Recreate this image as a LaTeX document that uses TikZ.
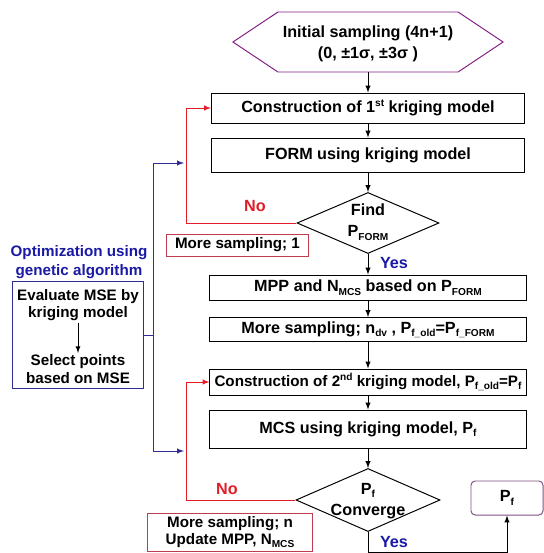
\documentclass[tikz,border=0pt]{standalone}
\usepackage{fontspec}
\setmainfont{Liberation Sans}
\usetikzlibrary{shapes.geometric}
\usetikzlibrary{calc}

\definecolor{redline}{RGB}{225,30,40}
\definecolor{redbox}{RGB}{190,60,80}
\definecolor{navy}{RGB}{50,45,150}
\definecolor{bluetxt}{RGB}{25,25,165}
\definecolor{hexcol}{RGB}{130,30,130}
\definecolor{pfcol}{RGB}{125,80,130}
\newcommand\bigtxt{\fontsize{11.5}{15}\selectfont\bfseries}
\newcommand\smalltxt{\fontsize{10.8}{12.3}\selectfont\bfseries}
\newcommand\low[1]{\raisebox{-0.4ex}{\fontsize{7.2}{7.2}\selectfont #1}}
\newcommand\up[1]{\raisebox{0.75ex}{\fontsize{7.2}{7.2}\selectfont #1}}

\tikzset{
  box/.style={draw, minimum width=7.9cm, inner sep=0pt, font=\bigtxt},
  hexbox/.style={minimum width=4.475cm, minimum height=1.475cm, inner sep=0pt, align=center, font=\bigtxt},
  dec/.style={draw, diamond, inner sep=0pt},
  dectxt/.style={align=center, inner sep=0pt, font=\bigtxt},
  redbox/.style={draw=redbox, fill=white, inner sep=0pt, align=center, font=\smalltxt},
  side/.style={align=center, inner sep=1pt, font=\smalltxt},
  blueline/.style={draw=navy},
  redloop/.style={draw=redline},
  notxt/.style={text=redline, font=\bigtxt},
  yestxt/.style={text=bluetxt, font=\bigtxt},
}

\begin{document}
\begin{tikzpicture}[x=0.025cm, y=-0.025cm, >=latex, line width=0.7pt]
\useasboundingbox (0,0) rectangle (544,553);

% main column
\node[hexbox] (init) at (368,42) {};
\node[dectxt] (inittxt) at (368,44) {Initial sampling (4n+1)\\(0, ±1σ, ±3σ )};
\draw[hexcol] (init.north west) -- (init.north east) -- ([xshift=1.125cm]init.east)
  -- (init.south east) -- (init.south west) -- ([xshift=-1.125cm]init.west) -- cycle;
\node[box, minimum width=7.825cm, minimum height=0.75cm] (con1) at (368,108) {Construction of 1\up{st} kriging model};
\node[box, minimum width=7.825cm, minimum height=0.85cm] (form) at (368,155) {FORM using kriging model};
\node[dec, minimum width=3.55cm, minimum height=1.525cm] (find) at (368,223) {};
\node[dectxt] (findtxt) at (368,222) {Find\\P\low{FORM}};
\node[box, minimum height=0.625cm] (mpp) at (368,287.5) {MPP and N\low{MCS} based on P\low{FORM}};
\node[box, minimum height=0.6cm] (moredv) at (368,329.5) {More sampling; n\low{dv} , P\low{f\_old}=P\low{f\_FORM}};
\node[box, minimum height=0.65cm, font=\fontsize{10.8}{13}\selectfont\bfseries] (con2) at (368,382) {Construction of 2\up{nd} kriging model, P\low{f\_old}=P\low{f}};
\node[box, minimum height=0.95cm] (mcs) at (368,429) {MCS using kriging model, P\low{f}};
\node[dec, minimum width=3.6cm, minimum height=1.575cm] (conv) at (368,500) {};
\node[dectxt] (convtxt) at (368,501) {P\low{f}\\Converge};
\node[draw=pfcol, rounded corners=3pt, minimum width=1.8cm, minimum height=0.85cm, font=\bigtxt] (pf) at (507,498) {P\low{f}};

\draw[->] (init) -- (con1);
\draw[->] (con1) -- (form);
\draw[->] (form) -- (find);
\draw[->] (find) -- (mpp);
\draw[->] (mpp) -- (moredv);
\draw[->] (moredv) -- (con2);
\draw[->] (con2) -- (mcs);
\draw[->] (mcs) -- (conv);
\coordinate (ybot) at (0,552);
\draw[->] (conv.south) -- (conv.south |- ybot) -| (pf.south);

% red loops
\coordinate (rx) at (186,0);
\draw[redloop,->] (find.west) -- (find.west -| rx) |- (con1.west);
\draw[redloop,->] (conv.west) -- (conv.west -| rx) |- (con2.west);
\node[redbox, minimum width=3.525cm, minimum height=0.55cm] (more1) at (237.5,245) {More sampling; 1};
\node[redbox, minimum width=4.1cm, minimum height=0.95cm] (moren) at (230,532) {More sampling; n\\Update MPP, N\low{MCS}};
\node[notxt] (no1) at (255,206) {No};
\node[notxt] (no2) at (227,489) {No};
\node[yestxt] (yes1) at (394,263) {Yes};
\node[yestxt] (yes2) at (394,542) {Yes};

% genetic algorithm
\node[align=center, text=bluetxt, font=\fontsize{10.8}{13.5}\selectfont\bfseries] (opt) at (79,262) {Optimization using\\genetic algorithm};
\node[draw=navy, minimum width=3.25cm, minimum height=2.65cm] (lbox) at (78,335) {};
\node[side] (eval) at (78,305) {Evaluate MSE by\\kriging model};
\node[side] (sel) at (78,369) {Select points\\based on MSE};
\draw[->, line width=0.6pt] (eval) -- (sel);
\coordinate (bup) at (184,163);
\coordinate (bdn) at (184,451);
\draw[blueline,->] (lbox.east) -- ++(10,0) |- (bup);
\draw[blueline,->] (lbox.east) ++(10,0) |- (bdn);
\end{tikzpicture}
\end{document}
